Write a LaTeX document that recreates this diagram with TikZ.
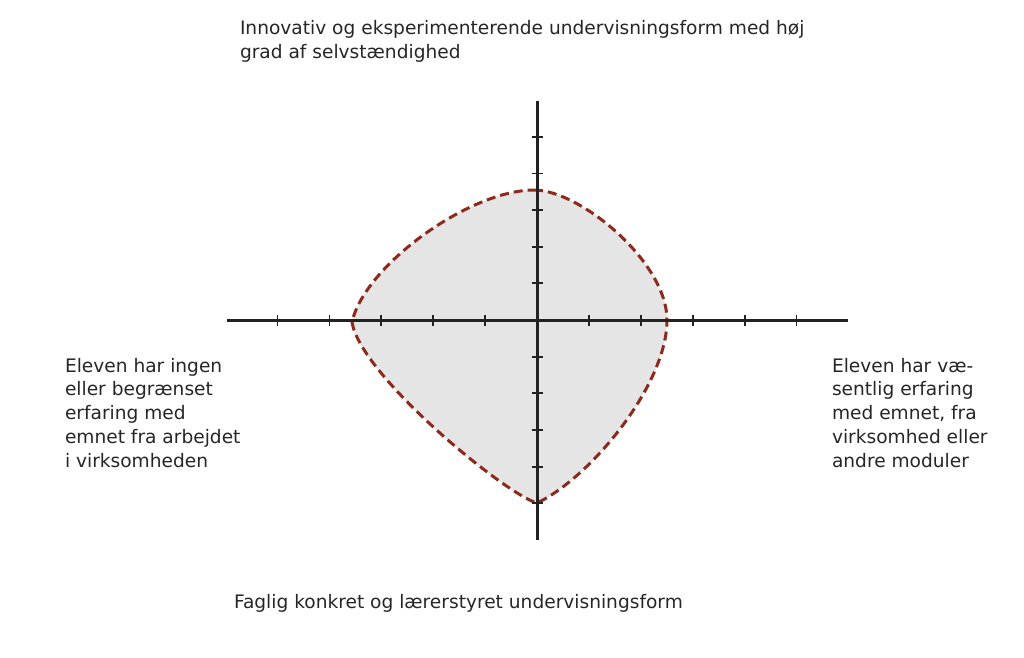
\documentclass[tikz,border=0pt]{standalone}
\usepackage{fontspec}
\setmainfont{DejaVu Sans}
\definecolor{txt}{HTML}{262626}
\definecolor{axis}{HTML}{222222}
\definecolor{shapefill}{HTML}{E5E5E5}
\definecolor{shapeline}{HTML}{8C2A1E}
\begin{document}
\begin{tikzpicture}[x=1pt,y=-1pt,
  label/.style={inner sep=0pt, outer sep=0pt, align=left, text=txt,
    font=\fontsize{18.6}{23.7}\selectfont, anchor=base west},
  axisline/.style={draw=axis, line width=3pt},
  tickline/.style={draw=axis, line width=1.8pt},
  region/.style={fill=shapefill, draw=shapeline, line width=3pt,
    dash pattern=on 9pt off 5pt}]
\useasboundingbox (0,0) rectangle (1024,657);
% region
\coordinate (T) at (534,190);
\coordinate (R) at (667,320);
\coordinate (B) at (537,503);
\coordinate (L) at (352,322);
\draw[region] (T) .. controls (580,190) and (667,262) .. (R)
  .. controls (667,385) and (590,478) .. (B)
  .. controls (505,494) and (360,375) .. (L)
  .. controls (365,265) and (470,190) .. (T) -- cycle;
% axes
\coordinate (xl) at (227,320);
\coordinate (xr) at (848,320);
\coordinate (yt) at (537,100.5);
\coordinate (yb) at (537,539.5);
\draw[axisline] (xl) -- (xr);
\draw[axisline] (yt) -- (yb);
\foreach \k in {1,...,5} {
  \draw[tickline] (537+51.9*\k,314.5) -- (537+51.9*\k,325.5);
  \draw[tickline] (537-51.9*\k,314.5) -- (537-51.9*\k,325.5);
  \draw[tickline] (531.5,320-36.65*\k) -- (542.5,320-36.65*\k);
  \draw[tickline] (531.5,320+36.65*\k) -- (542.5,320+36.65*\k);
}
% labels
\node[label] (top) at (240,58) {Innovativ og eksperimenterende undervisningsform med høj\\grad af selvstændighed};
\node[label] (left) at (65,467) {Eleven har ingen\\eller begrænset\\erfaring med\\emnet fra arbejdet\\i virksomheden};
\node[label] (right) at (832,467) {Eleven har væ-\\sentlig erfaring\\med emnet, fra\\virksomhed eller\\andre moduler};
\node[label] (bottom) at (234,608) {Faglig konkret og lærerstyret undervisningsform};
\end{tikzpicture}
\end{document}
